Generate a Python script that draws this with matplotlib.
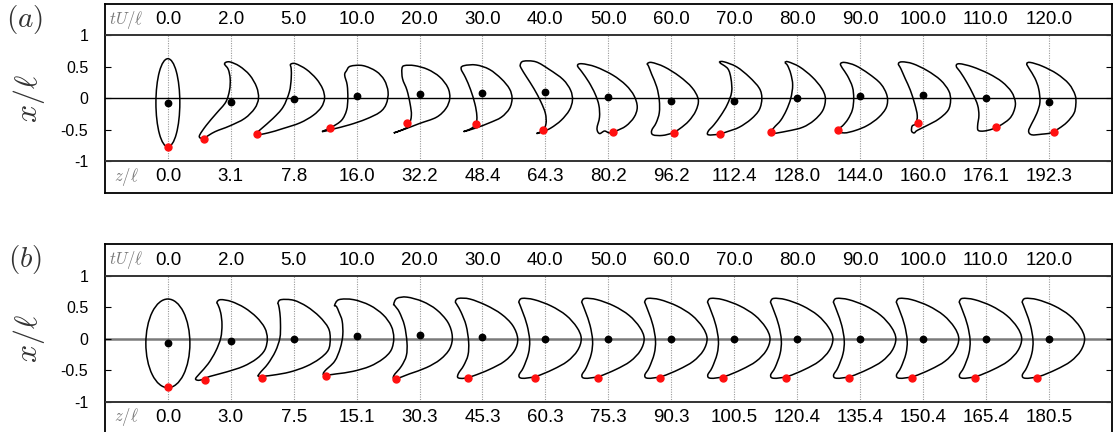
import matplotlib
matplotlib.use("Agg")
import matplotlib.pyplot as plt
import numpy as np
from matplotlib.path import Path
from matplotlib.patches import PathPatch, Ellipse

plt.rcParams['font.family'] = ['Liberation Sans', 'DejaVu Sans']
plt.rcParams['mathtext.fontset'] = 'cm'

# frame labels
TU_LABELS = ["0.0", "2.0", "5.0", "10.0", "20.0", "30.0", "40.0", "50.0",
             "60.0", "70.0", "80.0", "90.0", "100.0", "110.0", "120.0"]
Z_LABELS_A = ["0.0", "3.1", "7.8", "16.0", "32.2", "48.4", "64.3", "80.2",
              "96.2", "112.4", "128.0", "144.0", "160.0", "176.1", "192.3"]
Z_LABELS_B = ["0.0", "3.0", "7.5", "15.1", "30.3", "45.3", "60.3", "75.3",
              "90.3", "100.5", "120.4", "135.4", "150.4", "165.4", "180.5"]

# centroid (black dot) heights, x/l
CENT_Y_A = [-0.07, -0.065, -0.016, 0.03, 0.063, 0.09, 0.095, 0.016,
            -0.042, -0.042, 0.0, 0.042, 0.048, 0.0, -0.058]
CENT_Y_B = [-0.07, -0.04, 0.0, 0.037, 0.05, 0.02, 0.0, 0.0,
            0.0, 0.0, 0.0, 0.0, 0.0, 0.0, 0.0]

# tracer point (red dot), offset from frame centre
TIP_DX_A = [0.0, -0.42, -0.59, -0.43, -0.195, -0.11, -0.04, 0.08,
            0.05, -0.22, -0.42, -0.35, -0.08, 0.16, 0.08]
TIP_Y_A = [-0.77, -0.64, -0.56, -0.47, -0.40, -0.41, -0.51, -0.53,
           -0.55, -0.56, -0.54, -0.50, -0.40, -0.45, -0.53]
TIP_DX_B = [0.0, -0.41, -0.50, -0.49, -0.38, -0.23, -0.17, -0.164,
            -0.175, -0.175, -0.18, -0.18, -0.18, -0.18, -0.18]
TIP_Y_B = [-0.77, -0.66, -0.62, -0.59, -0.64, -0.62, -0.62, -0.62,
           -0.62, -0.62, -0.62, -0.62, -0.62, -0.62, -0.62]

# initial ellipse: width, height, centre y
ELLIPSE_A = (0.38, 1.40, -0.07)
ELLIPSE_B = (0.70, 1.41, -0.075)

# outlines of frames 1..14, panel (a)
OUTLINES_A = [
    [(-0.10, 0.55), (-0.02, 0.58), (0.14, 0.51), (0.30, 0.37), (0.41, 0.18), (0.44, 0.00),
     (0.38, -0.16), (0.22, -0.32), (-0.02, -0.44), (-0.25, -0.53), (-0.43, -0.63), (-0.50, -0.60),
     (-0.39, -0.43), (-0.23, -0.24), (-0.08, -0.06), (-0.02, 0.13), (-0.01, 0.31), (-0.04, 0.46)],
    [(-0.05, 0.54), (0.03, 0.55), (0.20, 0.46), (0.36, 0.31), (0.46, 0.15), (0.49, 0.00),
     (0.44, -0.14), (0.31, -0.27), (0.10, -0.39), (-0.17, -0.48), (-0.41, -0.55), (-0.61, -0.58),
     (-0.51, -0.48), (-0.33, -0.32), (-0.17, -0.14), (-0.07, 0.10), (-0.04, 0.31), (-0.04, 0.47)],
    [(-0.16, 0.44), (-0.10, 0.51), (0.10, 0.52), (0.31, 0.43), (0.44, 0.29), (0.50, 0.10),
     (0.47, -0.09), (0.37, -0.22), (0.15, -0.33), (-0.11, -0.42), (-0.38, -0.49), (-0.55, -0.53),
     (-0.40, -0.46), (-0.24, -0.35), (-0.16, -0.19), (-0.14, 0.00), (-0.15, 0.21), (-0.19, 0.37)],
    [(-0.28, 0.47), (-0.24, 0.52), (-0.08, 0.52), (0.13, 0.46), (0.32, 0.34), (0.45, 0.17),
     (0.48, 0.00), (0.42, -0.16), (0.27, -0.30), (0.00, -0.40), (-0.21, -0.48), (-0.41, -0.55),
     (-0.27, -0.50), (-0.17, -0.43), (-0.13, -0.27), (-0.15, -0.09), (-0.20, 0.13), (-0.27, 0.31)],
    [(-0.34, 0.47), (-0.29, 0.52), (-0.10, 0.53), (0.11, 0.46), (0.30, 0.31), (0.43, 0.15),
     (0.47, 0.00), (0.43, -0.16), (0.30, -0.30), (0.11, -0.39), (-0.10, -0.47), (-0.30, -0.53),
     (-0.18, -0.48), (-0.10, -0.40), (-0.09, -0.27), (-0.12, -0.09), (-0.19, 0.14), (-0.27, 0.33)],
    [(-0.40, 0.53), (-0.35, 0.59), (-0.15, 0.58), (0.06, 0.46), (0.28, 0.30), (0.40, 0.13),
     (0.43, -0.03), (0.38, -0.19), (0.25, -0.35), (0.09, -0.47), (-0.04, -0.53), (-0.14, -0.56),
     (-0.04, -0.51), (0.01, -0.40), (0.00, -0.24), (-0.07, -0.06), (-0.18, 0.15), (-0.30, 0.34),
     (-0.38, 0.47)],
    [(-0.49, 0.52), (-0.42, 0.55), (-0.20, 0.50), (0.07, 0.37), (0.28, 0.21), (0.41, 0.04),
     (0.46, -0.14), (0.41, -0.30), (0.28, -0.44), (0.12, -0.52), (0.02, -0.55), (-0.06, -0.52),
     (-0.14, -0.56), (-0.18, -0.48), (-0.14, -0.30), (-0.15, -0.11), (-0.21, 0.07), (-0.31, 0.26),
     (-0.42, 0.42)],
    [(-0.38, 0.55), (-0.31, 0.57), (-0.11, 0.50), (0.13, 0.35), (0.33, 0.17), (0.43, -0.02),
     (0.39, -0.20), (0.28, -0.36), (0.14, -0.48), (0.02, -0.55), (-0.14, -0.59), (-0.29, -0.58),
     (-0.31, -0.51), (-0.24, -0.39), (-0.19, -0.23), (-0.19, -0.03), (-0.23, 0.18), (-0.31, 0.38),
     (-0.36, 0.51)],
    [(-0.23, 0.57), (-0.16, 0.58), (0.04, 0.50), (0.24, 0.34), (0.40, 0.16), (0.44, 0.00),
     (0.40, -0.18), (0.27, -0.33), (0.08, -0.46), (-0.11, -0.53), (-0.24, -0.57), (-0.41, -0.58),
     (-0.41, -0.52), (-0.32, -0.42), (-0.21, -0.27), (-0.11, -0.10), (-0.04, 0.10), (-0.05, 0.31),
     (-0.10, 0.47)],
    [(-0.19, 0.57), (-0.14, 0.58), (0.04, 0.50), (0.24, 0.34), (0.39, 0.16), (0.45, 0.00),
     (0.41, -0.19), (0.27, -0.35), (0.09, -0.46), (-0.15, -0.52), (-0.42, -0.56), (-0.37, -0.47),
     (-0.26, -0.35), (-0.17, -0.19), (-0.10, 0.00), (-0.07, 0.21), (-0.10, 0.39), (-0.15, 0.52)],
    [(-0.31, 0.55), (-0.24, 0.57), (-0.07, 0.52), (0.14, 0.39), (0.33, 0.23), (0.43, 0.04),
     (0.42, -0.14), (0.30, -0.30), (0.12, -0.43), (-0.07, -0.51), (-0.25, -0.55), (-0.37, -0.51),
     (-0.28, -0.44), (-0.19, -0.33), (-0.12, -0.18), (-0.10, 0.00), (-0.12, 0.18), (-0.20, 0.36),
     (-0.28, 0.48)],
    [(-0.39, 0.55), (-0.33, 0.58), (-0.16, 0.55), (0.07, 0.44), (0.28, 0.29), (0.41, 0.12),
     (0.44, -0.03), (0.40, -0.19), (0.25, -0.33), (0.07, -0.43), (-0.09, -0.51), (-0.14, -0.55),
     (-0.18, -0.52), (-0.17, -0.44), (-0.11, -0.40), (-0.09, -0.27), (-0.13, -0.09), (-0.20, 0.13),
     (-0.28, 0.31), (-0.35, 0.47)],
    [(-0.47, 0.51), (-0.42, 0.55), (-0.21, 0.50), (0.05, 0.39), (0.26, 0.26), (0.41, 0.10),
     (0.47, -0.07), (0.44, -0.22), (0.37, -0.33), (0.23, -0.43), (0.10, -0.49), (-0.03, -0.52),
     (-0.12, -0.51), (-0.13, -0.43), (-0.11, -0.27), (-0.13, -0.11), (-0.20, 0.06), (-0.30, 0.25),
     (-0.40, 0.41)],
    [(-0.35, 0.55), (-0.29, 0.57), (-0.10, 0.51), (0.13, 0.39), (0.32, 0.23), (0.42, 0.05),
     (0.43, -0.10), (0.40, -0.24), (0.29, -0.38), (0.16, -0.48), (0.03, -0.55), (-0.11, -0.57),
     (-0.27, -0.58), (-0.32, -0.52), (-0.27, -0.40), (-0.19, -0.24), (-0.14, -0.06), (-0.16, 0.15),
     (-0.22, 0.32), (-0.31, 0.47)],
]

# panel (b): frames 1..5 differ, later frames share one crescent
CRESCENT_B = [(-0.42, 0.59), (-0.37, 0.64), (-0.18, 0.62), (0.09, 0.52), (0.33, 0.37), (0.50, 0.18),
              (0.57, 0.00), (0.51, -0.19), (0.35, -0.36), (0.12, -0.49), (-0.15, -0.60), (-0.37, -0.63),
              (-0.42, -0.58), (-0.35, -0.46), (-0.27, -0.24), (-0.25, -0.03), (-0.29, 0.21),
              (-0.36, 0.42), (-0.41, 0.55)]
OUTLINES_B = [
    [(-0.22, 0.58), (-0.16, 0.62), (0.01, 0.59), (0.22, 0.49), (0.41, 0.34), (0.54, 0.17),
     (0.58, 0.00), (0.54, -0.18), (0.41, -0.32), (0.20, -0.44), (-0.07, -0.53), (-0.33, -0.60),
     (-0.49, -0.66), (-0.56, -0.64), (-0.49, -0.55), (-0.36, -0.40), (-0.24, -0.20), (-0.16, 0.01),
     (-0.14, 0.22), (-0.16, 0.41), (-0.20, 0.53)],
    [(-0.25, 0.57), (-0.20, 0.62), (0.00, 0.61), (0.21, 0.51), (0.41, 0.35), (0.55, 0.17),
     (0.58, 0.00), (0.55, -0.18), (0.41, -0.32), (0.20, -0.44), (-0.06, -0.53), (-0.33, -0.58),
     (-0.55, -0.60), (-0.54, -0.55), (-0.41, -0.40), (-0.29, -0.20), (-0.22, 0.01), (-0.21, 0.22),
     (-0.22, 0.41), (-0.24, 0.53)],
    [(-0.35, 0.53), (-0.28, 0.62), (-0.05, 0.62), (0.21, 0.53), (0.42, 0.38), (0.55, 0.20),
     (0.59, 0.01), (0.55, -0.18), (0.42, -0.32), (0.21, -0.44), (-0.06, -0.52), (-0.32, -0.56),
     (-0.51, -0.58), (-0.51, -0.52), (-0.35, -0.36), (-0.26, -0.15), (-0.22, 0.06), (-0.23, 0.28),
     (-0.28, 0.42), (-0.32, 0.51)],
    [(-0.41, 0.55), (-0.36, 0.64), (-0.20, 0.66), (0.05, 0.59), (0.27, 0.46), (0.45, 0.26),
     (0.52, 0.04), (0.48, -0.16), (0.33, -0.33), (0.11, -0.46), (-0.16, -0.56), (-0.38, -0.64),
     (-0.41, -0.59), (-0.29, -0.44), (-0.21, -0.27), (-0.20, -0.06), (-0.24, 0.21), (-0.32, 0.42),
     (-0.39, 0.52)],
    [(-0.43, 0.59), (-0.38, 0.64), (-0.20, 0.63), (0.06, 0.53), (0.30, 0.39), (0.48, 0.21),
     (0.56, 0.00), (0.51, -0.19), (0.35, -0.36), (0.11, -0.49), (-0.14, -0.59), (-0.29, -0.63),
     (-0.39, -0.62), (-0.38, -0.55), (-0.30, -0.43), (-0.23, -0.26), (-0.22, -0.05), (-0.26, 0.21),
     (-0.34, 0.42), (-0.40, 0.53)],
] + [CRESCENT_B] * 9


def outline_path(points, x0):
    """Closed smooth curve through the outline points (Catmull-Rom as cubic Bezier)."""
    p = np.array(points, dtype=float)
    p[:, 0] += x0
    n = len(p)
    verts = [p[0]]
    codes = [Path.MOVETO]
    for i in range(n):
        a, b, c, d = p[i - 1], p[i], p[(i + 1) % n], p[(i + 2) % n]
        verts += [b + (c - a) / 6.0, c - (d - b) / 6.0, c]
        codes += [Path.CURVE4] * 3
    return Path(verts, codes)


def draw_panel(ax, letter, z_labels, ellipse, outlines, cent_y, tip_dx, tip_y,
               zero_color, zero_lw):
    frames = np.arange(len(TU_LABELS))
    ax.set_xlim(-1, 15)
    ax.set_ylim(-1.5, 1.5)

    for k in frames:
        ax.plot([k, k], [-1, 1], color='#9a9a9a', lw=0.8, ls=(0, (1, 1.2)), zorder=1)
    ax.axhline(0, color=zero_color, lw=zero_lw, zorder=1)
    for yy in (1, -1):
        ax.axhline(yy, color='#333333', lw=1.4, zorder=3)

    w, h, yc = ellipse
    ax.add_patch(Ellipse((0, yc), w, h, fill=False, ec='black', lw=1.1, zorder=2))
    for k, pts in zip(frames[1:], outlines):
        ax.add_patch(PathPatch(outline_path(pts, k), fill=False, ec='black', lw=1.1, zorder=2))

    ax.plot(frames, cent_y, 'o', color='black', ms=4.6, zorder=4)
    ax.plot(frames + np.array(tip_dx), tip_y, 'o', color='#ff1010', ms=5.0, zorder=4)

    for k in frames:
        ax.text(k, 1.25, TU_LABELS[k], ha='center', va='center', fontsize=13.5)
        ax.text(k, -1.25, z_labels[k], ha='center', va='center', fontsize=13.5)
    ax.text(-0.66, 1.25, r'$tU/\ell$', ha='center', va='center', fontsize=12, color='#777777')
    ax.text(-0.66, -1.25, r'$z/\ell$', ha='center', va='center', fontsize=12, color='#777777')

    ax.set_yticks([-1, -0.5, 0, 0.5, 1])
    ax.set_yticklabels(['-1', '-0.5', '0', '0.5', '1'], fontsize=11.5)
    ax.set_xticks([])
    ax.tick_params(axis='y', direction='in', length=4, width=0.8, pad=12, right=True)
    for s in ax.spines.values():
        s.set_linewidth(1.3)
    ax.set_ylabel(r'$x/\ell$', fontsize=23, color='#333333', labelpad=10)
    ax.text(-0.0795, 0.92, r'$(' + letter + r')$', transform=ax.transAxes,
            fontsize=21, color='#333333', ha='center', va='center')


fig = plt.figure(figsize=(11.13, 4.32), dpi=100)
ax_a = fig.add_axes([0.0943, 0.554, 0.9045, 0.4368])
ax_b = fig.add_axes([0.0943, -0.0023, 0.9045, 0.4368])

draw_panel(ax_a, 'a', Z_LABELS_A, ELLIPSE_A, OUTLINES_A, CENT_Y_A, TIP_DX_A, TIP_Y_A,
           'black', 1.0)
draw_panel(ax_b, 'b', Z_LABELS_B, ELLIPSE_B, OUTLINES_B, CENT_Y_B, TIP_DX_B, TIP_Y_B,
           '#7a7a7a', 1.8)

fig.savefig('out.png', dpi=100)
